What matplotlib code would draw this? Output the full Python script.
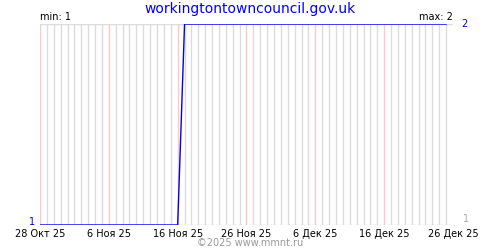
import matplotlib
matplotlib.use('Agg')
import matplotlib.pyplot as plt
from datetime import datetime, timedelta

title = 'workingtontowncouncil.gov.uk'
dates = ['2025-10-28', '2025-11-17', '2025-11-18', '2025-12-26']
values = [1, 1, 2, 2]
tick_labels = ['28 Окт 25', '6 Ноя 25', '16 Ноя 25', '26 Ноя 25',
               '6 Дек 25', '16 Дек 25', '26 Дек 25']
v_min = 1
v_max = 2

x = [datetime.strptime(d, '%Y-%m-%d') for d in dates]
start, end = x[0], x[-1]

fig = plt.figure(figsize=(5, 2.5), dpi=100)
ax = fig.add_axes([0.08, 0.1, 0.826, 0.804])

# daily grid, every 10th day in pink
n_days = (end - start).days
for i in range(n_days + 1):
    d = start + timedelta(days=i)
    c = '#ffc8c8' if i % 10 == 0 else '#dcdcdc'
    ax.axvline(d, color=c, lw=1, zorder=1)
ax.axhline(v_min, color='#dcdcdc', lw=1, zorder=1)
ax.axhline(v_max, color='#dcdcdc', lw=1, zorder=1)

ax.plot(x, values, color='#0000ee', lw=1.0, zorder=3)

ax.set_xlim(start, end)
ax.set_ylim(v_min, v_max)
for s in ax.spines.values():
    s.set_visible(False)
ax.set_yticks([])
tick_pos = [start + timedelta(days=10 * i) for i in range(len(tick_labels))]
ax.set_xticks(tick_pos)
ax.set_xticklabels(tick_labels, fontsize=7)
ax.tick_params(axis='x', length=0, pad=3)

fig.text(0.5, 0.965, title, ha='center', va='center', color='#0000ff', fontsize=10)
ax.text(0.0, 1.01, 'min: 1', transform=ax.transAxes, ha='left', va='bottom', fontsize=7)
ax.text(1.0, 1.01, 'max: 2', transform=ax.transAxes, ha='right', va='bottom', fontsize=7)
ax.text(-0.012, 0.0, str(v_min), transform=ax.transAxes, ha='right', va='baseline',
        fontsize=7, color='#0000ee')
ax.text(1.02, 1.0, str(v_max), transform=ax.transAxes, ha='left', va='center',
        fontsize=7, color='#0000ee')
ax.text(1.025, 0.03, str(v_min), transform=ax.transAxes, ha='left', va='center',
        fontsize=7, color='#aaaaaa')
fig.text(0.5, 0.028, '©2025 www.mmnt.ru', ha='center', va='center', fontsize=7, color='#999999')

fig.savefig('out.png', dpi=100)
